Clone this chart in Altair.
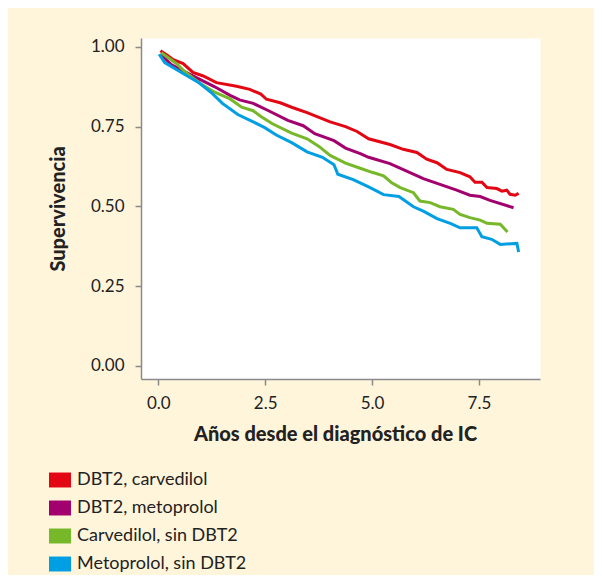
import altair as alt
import pandas as pd

series_names = ["DBT2, carvedilol", "DBT2, metoprolol", "Carvedilol, sin DBT2", "Metoprolol, sin DBT2"]
series_colors = ["#E30613", "#A3006F", "#76B82A", "#009FE3"]

red_x = [0.05, 0.2, 0.35, 0.58, 0.81, 1.05, 1.36, 1.83, 2.14, 2.4, 2.53, 2.85, 3.12, 3.48, 4.02, 4.38,
         4.65, 4.92, 5.42, 5.73, 6.05, 6.28, 6.52, 6.75, 7.06, 7.29, 7.41, 7.57, 7.69, 7.92, 8.04, 8.15,
         8.23, 8.35, 8.43]
red_y = [0.988, 0.975, 0.96, 0.948, 0.92, 0.909, 0.888, 0.877, 0.867, 0.852, 0.836, 0.825, 0.811, 0.794,
         0.765, 0.750, 0.735, 0.712, 0.694, 0.679, 0.669, 0.648, 0.637, 0.616, 0.606, 0.593, 0.576, 0.576,
         0.559, 0.556, 0.548, 0.551, 0.538, 0.535, 0.541]

pur_x = [0.05, 0.3, 0.51, 0.96, 1.32, 1.68, 1.9, 2.22, 2.58, 3.03, 3.39, 3.66, 4.11, 4.38, 4.74, 4.92,
         5.42, 5.81, 6.2, 6.59, 6.98, 7.29, 7.53, 7.76, 8.31]
pur_y = [0.978, 0.945, 0.93, 0.899, 0.875, 0.848, 0.834, 0.823, 0.80, 0.77, 0.753, 0.728, 0.706, 0.683,
         0.665, 0.654, 0.634, 0.611, 0.587, 0.569, 0.551, 0.535, 0.531, 0.519, 0.496]

grn_x = [0.07, 0.42, 0.6, 0.96, 1.32, 1.68, 1.95, 2.22, 2.4, 2.67, 3.12, 3.48, 3.75, 4.02, 4.38, 4.74,
         5.0, 5.27, 5.45, 5.66, 5.97, 6.12, 6.36, 6.59, 6.9, 7.06, 7.29, 7.53, 7.69, 8.0, 8.17]
grn_y = [0.982, 0.948, 0.925, 0.887, 0.858, 0.837, 0.811, 0.80, 0.782, 0.759, 0.73, 0.712, 0.689, 0.66,
         0.636, 0.619, 0.607, 0.596, 0.575, 0.559, 0.543, 0.517, 0.512, 0.499, 0.491, 0.475, 0.465, 0.457,
         0.447, 0.444, 0.42]

blu_x = [0.02, 0.15, 0.51, 0.96, 1.23, 1.5, 1.86, 2.22, 2.49, 2.76, 3.12, 3.48, 3.84, 4.11, 4.2, 4.56,
         4.92, 5.27, 5.63, 5.97, 6.2, 6.52, 6.83, 7.06, 7.45, 7.57, 7.8, 8.0, 8.39, 8.43]
blu_y = [0.977, 0.951, 0.922, 0.887, 0.858, 0.823, 0.788, 0.765, 0.747, 0.724, 0.70, 0.671, 0.654, 0.631,
         0.601, 0.584, 0.561, 0.537, 0.531, 0.499, 0.485, 0.462, 0.447, 0.433, 0.433, 0.405, 0.397, 0.381,
         0.384, 0.357]

x_ticks = [0, 2.5, 5, 7.5]
y_ticks = [0, 0.25, 0.5, 0.75, 1.0]

rows = []
for name, xs, ys in zip(series_names, [red_x, pur_x, grn_x, blu_x], [red_y, pur_y, grn_y, blu_y]):
    for xv, yv in zip(xs, ys):
        rows.append({"grupo": name, "t": xv, "s": yv})
df = pd.DataFrame(rows)

rect_path = "M-1,-0.68L1,-0.68L1,0.68L-1,0.68Z"

x_enc = alt.X("t:Q",
              scale=alt.Scale(domain=[-0.405, 8.93], nice=False, zero=False),
              axis=alt.Axis(values=x_ticks, format=".1f", title="Años desde el diagnóstico de IC",
                            labelPadding=10, titlePadding=13, titleX=194, titleAlign="center"))
y_enc = alt.Y("s:Q",
              scale=alt.Scale(domain=[-0.041, 1.028], nice=False, zero=False),
              axis=alt.Axis(values=y_ticks, format=".2f", title="Supervivencia",
                            labelPadding=11, titlePadding=22))
legend_spec = alt.Legend(title=None, orient="none", legendX=-92, legendY=431,
                         symbolType=rect_path, symbolSize=484, symbolStrokeWidth=0,
                         symbolOpacity=1,
                         labelFontSize=18, labelFont="Lato", labelColor="#222222", labelLimit=400,
                         rowPadding=8, labelOffset=6, padding=0)
color_enc = alt.Color("grupo:N", scale=alt.Scale(domain=series_names, range=series_colors),
                      legend=legend_spec)

key_layer = alt.Chart(df).mark_square(filled=True, opacity=1).encode(
    x=x_enc, y=y_enc, color=color_enc
).transform_filter("datum.t < -50")

line_layer = alt.Chart(df).mark_line(strokeWidth=3).encode(
    x=x_enc, y=y_enc, color=color_enc, order="t:Q"
)

chart = alt.layer(key_layer, line_layer).properties(
    width=399, height=341,
    padding={"left": 133, "top": 30, "right": 54, "bottom": 196},
    autosize=alt.AutoSizeParams(type="none"),
    background="#FFF5DB",
).configure_view(
    fill="white", stroke="transparent"
).configure_axis(
    grid=False,
    domainColor="#8a8a8a", domainWidth=1.5,
    tickColor="#8a8a8a", tickWidth=1.5, tickSize=6,
    labelFont="Lato", labelFontSize=17, labelColor="#222222",
    titleFont="Lato", titleFontWeight=900, titleFontSize=20, titleColor="#222222",
)

chart.save("out.html", embed_options={"renderer": "svg", "actions": False})
